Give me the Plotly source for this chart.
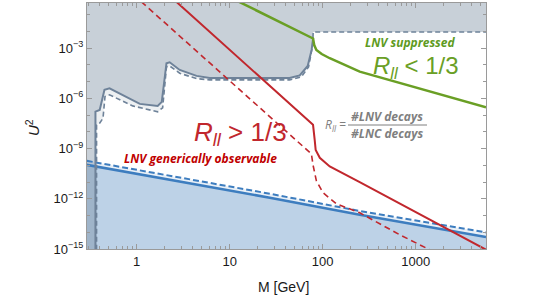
import plotly.graph_objects as go
import numpy as np

# ---- data (M in GeV, U^2) ----
gray_solid_M = [0.36, 0.36, 0.40, 0.45, 0.51, 0.906, 1.08, 1.68, 1.86, 2.09, 2.26, 2.9, 4.4, 6.1, 44, 56.6, 69, 76, 79, 79, 5700]
gray_solid_U = [1e-16, 1.6e-7, 2.0e-7, 3.2e-6, 3.9e-6, 8e-7, 4.6e-7, 3.5e-7, 6.1e-7, 1.23e-4, 1.4e-4, 4.9e-5, 2.16e-5, 1.64e-5, 1.64e-5, 2.3e-5, 8.5e-5, 7.7e-4, 4e-3, 9e-3, 9e-3]

gray_dash_M = [0.37, 0.37, 0.40, 0.434, 0.456, 0.51, 0.906, 1.68, 1.9, 2.09, 2.26, 2.9, 4.4, 6.1, 44, 59, 70.5, 78, 79, 5700]
gray_dash_U = [1e-16, 2.6e-8, 3.3e-8, 6.5e-8, 1.26e-6, 1.6e-6, 3.5e-7, 1.55e-7, 2.7e-7, 7.4e-5, 8.5e-5, 3.1e-5, 1.5e-5, 1.25e-5, 1.25e-5, 1.9e-5, 7.4e-5, 1.5e-3, 9e-3, 9e-3]

green_M = [10, 34.5, 78.7, 81, 85.5, 97.5, 119, 250, 673, 5700]
green_U = [1.08, 0.0358, 3.7e-3, 1.5e-3, 7.7e-4, 4.4e-4, 2.45e-4, 3.9e-5, 8.3e-6, 2.9e-7]

red_M = [2.7, 78.7, 82, 84, 93, 119, 250, 5700]
red_U = [0.54, 2.58e-8, 3.3e-9, 8.3e-10, 2.8e-10, 8.5e-11, 9.9e-12, 9.1e-16]

red_dash_M = [1.12, 75.5, 79, 85.5, 100.7, 140, 250, 673, 1414]
red_dash_U = [0.58, 4.8e-10, 9.3e-11, 1.18e-11, 2.3e-12, 5.0e-13, 1.46e-13, 7.1e-15, 9e-16]

blue_M = [0.29, 2.9, 27, 250, 5700]
blue_U = [1.06e-10, 1.07e-11, 1.15e-12, 1.1e-13, 5.2e-15]

blue_dash_M = [0.29, 2.9, 27, 250, 5700]
blue_dash_U = [1.84e-10, 1.78e-11, 2.0e-12, 1.85e-13, 9.8e-15]

x_tick_vals = [1, 10, 100, 1000]
x_tick_text = ["1", "10", "100", "1000"]
y_tick_vals = [1e-15, 1e-12, 1e-9, 1e-6, 1e-3]
y_tick_text = ["10<sup>−15</sup>", "10<sup>−12</sup>", "10<sup>−9</sup>", "10<sup>−6</sup>", "10<sup>−3</sup>"]

M_MIN, M_MAX = 0.29, 5700
U_FLOOR, U_CEIL = 1e-16, 10

# ---- colours ----
GRAY_LINE = "#6e8299"
BLUE_LINE = "#3d7dbf"
RED = "#c1272d"
GREEN = "#6a9f25"

fig = go.Figure()

def poly_below(M, U):
    return list(M) + [M[-1], M[0]], list(U) + [U_FLOOR, U_FLOOR]

def poly_above(M, U):
    return list(M) + [M[-1], M[0] * 0.5, M[0] * 0.5], list(U) + [U_CEIL, U_CEIL, U[0]]

# blue fills
bx, by = poly_below(blue_dash_M, blue_dash_U)
fig.add_trace(go.Scatter(x=bx, y=by, fill="toself", mode="none",
                         fillcolor="rgba(70,130,190,0.12)", hoverinfo="skip"))
bx, by = poly_below(blue_M, blue_U)
fig.add_trace(go.Scatter(x=bx, y=by, fill="toself", mode="none",
                         fillcolor="rgba(70,130,190,0.27)", hoverinfo="skip"))
# gray fills
gx, gy = poly_above(gray_dash_M, gray_dash_U)
fig.add_trace(go.Scatter(x=gx, y=gy, fill="toself", mode="none",
                         fillcolor="rgba(110,130,150,0.12)", hoverinfo="skip"))
gx, gy = poly_above(gray_solid_M, gray_solid_U)
fig.add_trace(go.Scatter(x=gx, y=gy, fill="toself", mode="none",
                         fillcolor="rgba(110,130,150,0.29)", hoverinfo="skip"))

# lines
fig.add_trace(go.Scatter(x=blue_dash_M, y=blue_dash_U, mode="lines",
                         line=dict(color=BLUE_LINE, width=2, dash="6px,3px")))
fig.add_trace(go.Scatter(x=blue_M, y=blue_U, mode="lines",
                         line=dict(color=BLUE_LINE, width=2.5)))
fig.add_trace(go.Scatter(x=gray_dash_M, y=gray_dash_U, mode="lines",
                         line=dict(color=GRAY_LINE, width=1.6, dash="5px,3px")))
fig.add_trace(go.Scatter(x=gray_solid_M[:-2], y=gray_solid_U[:-2], mode="lines",
                         line=dict(color=GRAY_LINE, width=2)))
fig.add_trace(go.Scatter(x=green_M, y=green_U, mode="lines",
                         line=dict(color=GREEN, width=2.5)))
fig.add_trace(go.Scatter(x=red_dash_M, y=red_dash_U, mode="lines",
                         line=dict(color=RED, width=1.6, dash="6px,4px")))
fig.add_trace(go.Scatter(x=red_M, y=red_U, mode="lines",
                         line=dict(color=RED, width=2)))

x_minor = [k * 10.0 ** d for d in range(-1, 4) for k in range(2, 10)]
y_minor = [10.0 ** d for d in range(-15, 0)]

AX = "#9a9a9a"
fig.update_xaxes(type="log", range=[np.log10(M_MIN) + 0.003, np.log10(M_MAX)],
                 tickvals=x_tick_vals, ticktext=x_tick_text,
                 ticks="inside", ticklen=5, tickcolor=AX, showline=True, linecolor=AX,
                 linewidth=1, mirror="allticks", showgrid=False, zeroline=False,
                 minor=dict(tickvals=x_minor, ticks="inside", ticklen=3, tickcolor=AX, showgrid=False),
                 tickfont=dict(family="Liberation Sans", size=13, color="#1a1a1a"))
fig.update_yaxes(type="log", range=[-15, -0.313],
                 tickvals=y_tick_vals, ticktext=y_tick_text,
                 ticks="inside", ticklen=5, tickcolor=AX, showline=True, linecolor=AX,
                 linewidth=1, mirror="allticks", showgrid=False, zeroline=False,
                 minor=dict(tickvals=y_minor, ticks="inside", ticklen=3, tickcolor=AX, showgrid=False),
                 tickfont=dict(family="Liberation Sans", size=13, color="#1a1a1a"))

L, R, T, B = 87, 48, 3, 51
W, H = 534, 300
pw, ph = W - L - R, H - T - B

def px(x):
    return (x - L) / pw

def py(y):
    return (H - B - y) / ph

ann = []
def add(text, x, y, size, color, family="Liberation Sans", angle=0):
    ann.append(dict(text=text, x=px(x), y=py(y), xref="paper", yref="paper",
                    showarrow=False, xanchor="center", yanchor="middle", textangle=angle,
                    font=dict(family=family, size=size, color=color)))

add("<i>U</i><sup>2</sup>", 33, 128, 15, "#1a1a1a", angle=-90)
add("M [GeV]", 283, 287, 14, "#1a1a1a")
add("<i>R<sub>ll</sub></i> &gt; 1/3", 240, 133, 26, RED)
add("<b><i>LNV generically observable</i></b>", 200, 158, 12, "#c00000", family="Open Sans")
add("<b><i>LNV suppressed</i></b>", 410, 42.5, 12, "#5e9b22", family="Open Sans")
add("<i>R<sub>ll</sub></i> &lt; 1/3", 416, 67, 24, GREEN)
add("<i>R<sub>ll</sub></i> =", 335, 125, 12, "#7f7f7f", family="Open Sans")
add("<b><i>#LNV decays</i></b>", 387, 116.5, 12, "#7f7f7f", family="Open Sans")
add("<b><i>#LNC decays</i></b>", 387, 133.5, 12, "#7f7f7f", family="Open Sans")

fig.add_shape(type="line", xref="paper", yref="paper", x0=px(348), x1=px(427),
              y0=py(125), y1=py(125), line=dict(color="#7f7f7f", width=1))

fig.update_layout(width=W, height=H, margin=dict(l=L, r=R, t=T, b=B),
                  plot_bgcolor="white", paper_bgcolor="white", showlegend=False,
                  annotations=ann)

fig.write_html("out.html", config={"displayModeBar": False},
               post_script="document.body.style.margin='0';")
